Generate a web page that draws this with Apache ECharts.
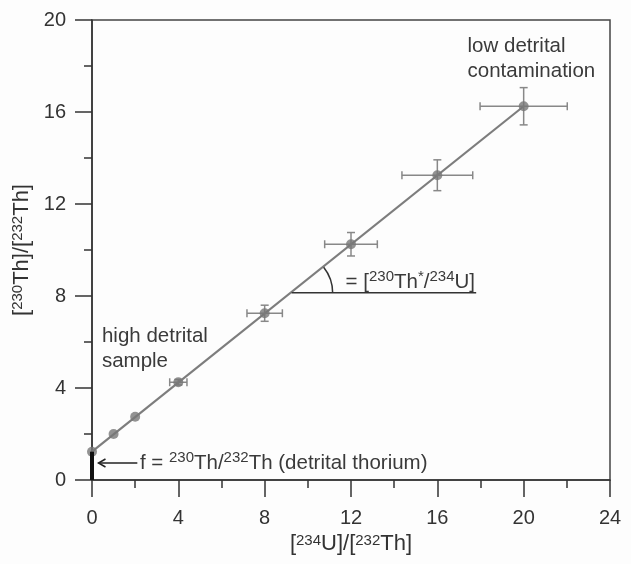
<!DOCTYPE html>
<html>
<head>
<meta charset="utf-8">
<script src="https://cdn.jsdelivr.net/npm/echarts@6/dist/echarts.min.js"></script>
<style>
  html, body { margin: 0; background: #fdfdfd; }
  #chart { width: 631px; height: 564px; }
</style>
</head>
<body>
<div id="chart"></div>
<script>
// measured samples: [234U]/[232Th] vs [230Th]/[232Th]
const ratioU = [0, 1, 2, 4, 8, 12, 16, 20]
const ratioTh = [1.23, 2.0, 2.75, 4.25, 7.25, 10.25, 13.25, 16.25]
const errU = [0, 0, 0, 0.4, 0.82, 1.22, 1.64, 2.02]
const errTh = [0, 0, 0, 0.12, 0.35, 0.51, 0.67, 0.81]

// isochron line and annotations (data coords)
const fitU = [0, 20]
const fitTh = [1.23, 16.25]
const detritalTh = 1.23
const slopeRefY = 8.14
const slopeRefX = [9.25, 17.8]
const arrowU = [2.1, 0.3]
const arrowTh = 0.74

const FONT = '"Liberation Sans", Arial, sans-serif'
const INK = '#333'
const GREY = '#7d7d7d'
const supStyle = { fontSize: 15, verticalAlign: 'top', lineHeight: 23, fontFamily: FONT }

const notes = [
  { x: 17.4, y: 18.3, text: 'low detrital\ncontamination' },
  { x: 0.46, y: 5.7, text: 'high detrital\nsample' },
  { x: 2.22, y: arrowTh, text: 'f = {s|230}Th/{s|232}Th (detrital thorium)' },
  { x: 11.75, y: 8.6, text: '= [{s|230}Th{s|*}/{s|234}U]' }
]

const chart = echarts.init(document.getElementById('chart'))

const axisCommon = {
  type: 'value',
  interval: 4,
  axisLine: { show: true, onZero: false, lineStyle: { color: INK, width: 1.5 } },
  axisTick: { show: true, length: 17, lineStyle: { color: INK, width: 1.5 } },
  minorTick: { show: true, splitNumber: 2, length: 8, lineStyle: { color: INK, width: 1.5 } },
  splitLine: { show: false },
  axisLabel: { fontSize: 20, color: INK, fontFamily: FONT },
  nameLocation: 'middle',
  nameTextStyle: {
    fontSize: 22, color: INK, fontFamily: FONT,
    rich: { s: Object.assign({ color: INK }, supStyle) }
  }
}

chart.setOption({
  backgroundColor: '#fdfdfd',
  animation: false,
  grid: {
    left: 92, right: 21, top: 20, bottom: 84,
    show: true, borderColor: '#444', borderWidth: 1.5, backgroundColor: 'transparent'
  },
  xAxis: Object.assign({}, axisCommon, {
    min: 0, max: 24,
    name: '[{s|234}U]/[{s|232}Th]',
    nameGap: 50,
    axisLabel: Object.assign({}, axisCommon.axisLabel, { margin: 28 })
  }),
  yAxis: Object.assign({}, axisCommon, {
    min: 0, max: 20,
    name: '[{s|230}Th]/[{s|232}Th]',
    nameGap: 57,
    axisLabel: Object.assign({}, axisCommon.axisLabel, { margin: 26 })
  }),
  series: [
    {
      // isochron
      type: 'line',
      data: fitU.map((u, i) => [u, fitTh[i]]),
      symbol: 'none',
      lineStyle: { color: GREY, width: 2.2 },
      z: 2
    },
    {
      // error bars
      type: 'custom',
      data: ratioU.map((u, i) => [u, ratioTh[i], errU[i], errTh[i]]),
      renderItem: (params, api) => {
        const u = api.value(0), t = api.value(1), eu = api.value(2), et = api.value(3)
        const style = { stroke: '#888', lineWidth: 1.5 }
        const kids = []
        const cap = 4
        if (eu > 0) {
          const a = api.coord([u - eu, t]), b = api.coord([u + eu, t])
          kids.push({ type: 'line', shape: { x1: a[0], y1: a[1], x2: b[0], y2: b[1] }, style })
          kids.push({ type: 'line', shape: { x1: a[0], y1: a[1] - cap, x2: a[0], y2: a[1] + cap }, style })
          kids.push({ type: 'line', shape: { x1: b[0], y1: b[1] - cap, x2: b[0], y2: b[1] + cap }, style })
        }
        if (et > 0) {
          const a = api.coord([u, t - et]), b = api.coord([u, t + et])
          kids.push({ type: 'line', shape: { x1: a[0], y1: a[1], x2: b[0], y2: b[1] }, style })
          kids.push({ type: 'line', shape: { x1: a[0] - cap, y1: a[1], x2: a[0] + cap, y2: a[1] }, style })
          kids.push({ type: 'line', shape: { x1: b[0] - cap, y1: b[1], x2: b[0] + cap, y2: b[1] }, style })
        }
        return { type: 'group', children: kids }
      },
      z: 3
    },
    {
      type: 'scatter',
      data: ratioU.map((u, i) => [u, ratioTh[i]]),
      symbol: 'circle',
      symbolSize: 10,
      itemStyle: { color: '#777' },
      z: 4
    },
    {
      // annotation lines: detrital Th bar, slope reference, angle arc, arrow
      type: 'custom',
      data: [[0]],
      renderItem: (params, api) => {
        const kids = []
        const p0 = api.coord([0, 0]), p1 = api.coord([0, detritalTh])
        kids.push({ type: 'line', shape: { x1: p0[0], y1: p0[1], x2: p1[0], y2: p1[1] }, style: { stroke: '#111', lineWidth: 4 } })
        const r0 = api.coord([slopeRefX[0], slopeRefY]), r1 = api.coord([slopeRefX[1], slopeRefY])
        kids.push({ type: 'line', shape: { x1: r0[0], y1: r0[1], x2: r1[0], y2: r1[1] }, style: { stroke: INK, lineWidth: 1.5 } })
        const f0 = api.coord([fitU[0], fitTh[0]]), f1 = api.coord([fitU[1], fitTh[1]])
        const ang = Math.atan2(f1[1] - f0[1], f1[0] - f0[0])
        kids.push({ type: 'arc', shape: { cx: r0[0], cy: r0[1], r: 41, startAngle: ang, endAngle: 0, clockwise: true }, style: { stroke: INK, lineWidth: 1.5, fill: null } })
        const a0 = api.coord([arrowU[0], arrowTh]), a1 = api.coord([arrowU[1], arrowTh])
        kids.push({ type: 'line', shape: { x1: a0[0], y1: a0[1], x2: a1[0], y2: a1[1] }, style: { stroke: '#222', lineWidth: 1.5 } })
        kids.push({ type: 'polyline', shape: { points: [[a1[0] + 7, a1[1] - 4], [a1[0], a1[1]], [a1[0] + 7, a1[1] + 4]] }, style: { stroke: '#222', lineWidth: 1.5, fill: null } })
        return { type: 'group', children: kids }
      },
      silent: true,
      z: 5
    },
    {
      // text notes
      type: 'custom',
      data: notes.map(n => [n.x, n.y]),
      renderItem: (params, api) => {
        const n = notes[params.dataIndex]
        const p = api.coord([n.x, n.y])
        return {
          type: 'text',
          x: p[0], y: p[1],
          style: {
            text: n.text,
            fill: '#3a3a3a',
            fontSize: 20.5,
            fontFamily: FONT,
            align: 'left',
            verticalAlign: 'middle',
            lineHeight: 25,
            rich: { s: Object.assign({ fill: '#3a3a3a' }, supStyle) }
          }
        }
      },
      silent: true,
      z: 6
    }
  ]
})
</script>
</body>
</html>
